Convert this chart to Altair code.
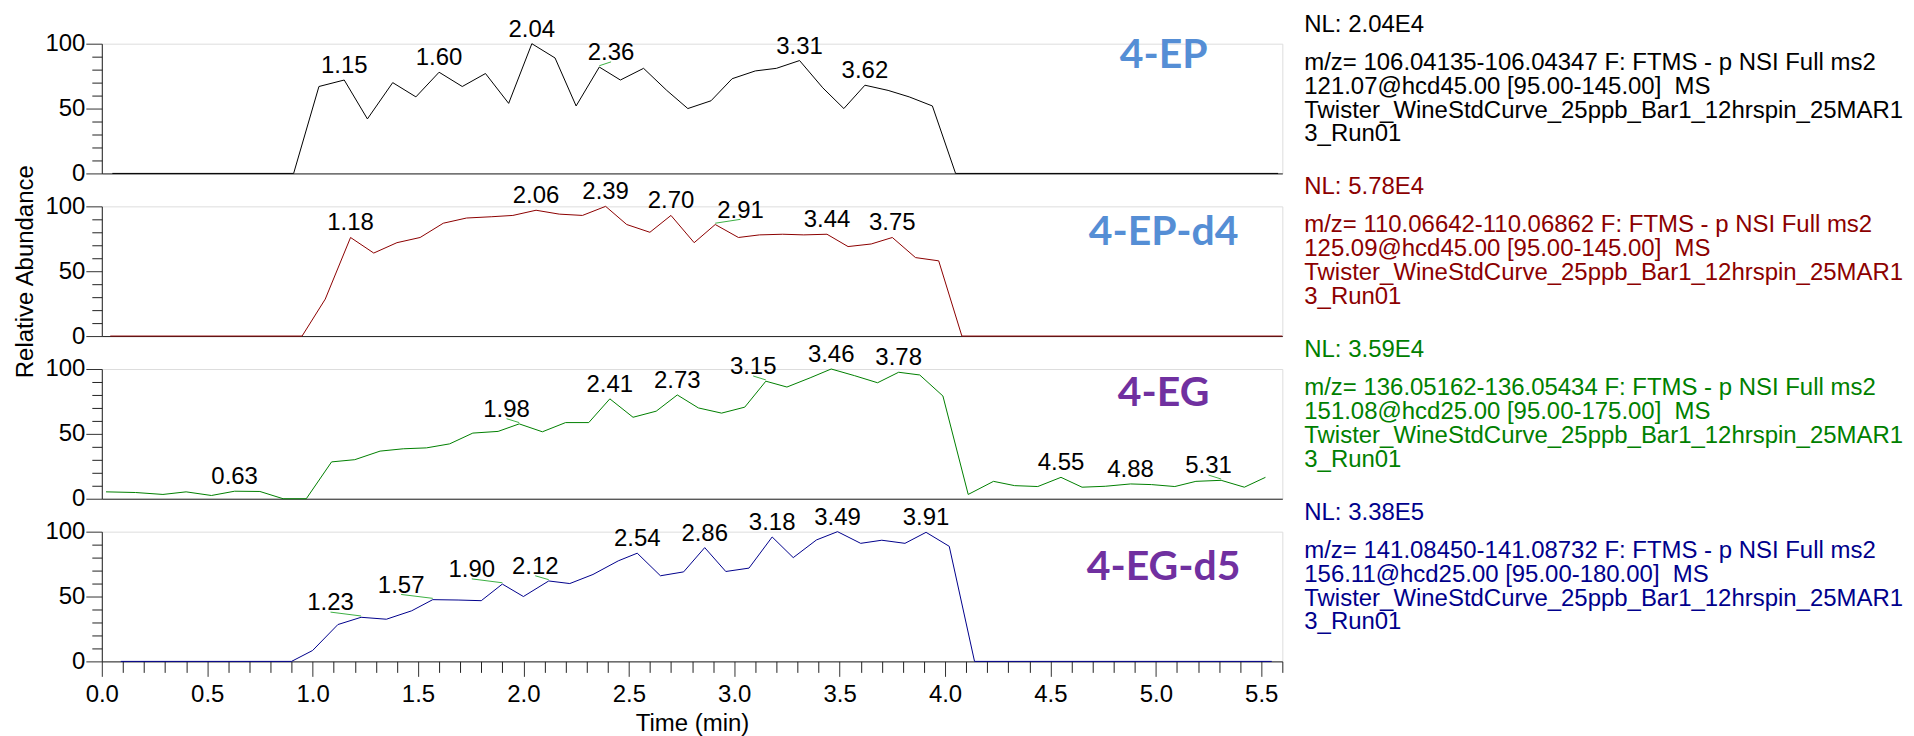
import altair as alt
import pandas as pd

FONT = "Liberation Sans"
W = 1183   # plot width (0 - 5.6 min)
H = 130    # plot height (0 - 100 %)

# ---------------- data ----------------
ep_time = [0.05, 0.91, 1.03, 1.15, 1.26, 1.38, 1.49, 1.60, 1.71, 1.82, 1.93, 2.04, 2.15, 2.25,
           2.36, 2.46, 2.57, 2.68, 2.78, 2.89, 2.99, 3.10, 3.20, 3.31, 3.42, 3.52, 3.62, 3.73,
           3.83, 3.94, 4.05, 5.58]
ep_val = [0, 0, 67, 72, 42, 70, 59, 78, 67, 77, 54, 100, 89, 52,
          82, 72, 81, 64, 50, 56, 73, 79, 81, 87, 66, 50, 68, 64,
          59, 52, 0, 0]
ep_peaks = [1.15, 1.60, 2.04, 2.36, 3.31, 3.62]

epd4_time = [0.04, 0.95, 1.06, 1.18, 1.29, 1.40, 1.51, 1.62, 1.73, 1.85, 1.95, 2.06, 2.17, 2.28,
             2.39, 2.49, 2.60, 2.70, 2.81, 2.91, 3.02, 3.12, 3.23, 3.33, 3.44, 3.54, 3.65, 3.75,
             3.86, 3.97, 4.08, 5.60]
epd4_val = [0, 0, 28.5, 76, 64, 72, 76, 87, 91, 92, 93, 97, 94, 93,
            100, 86, 80, 93, 72, 86, 76, 78, 78.5, 78, 78.5, 69, 71, 76,
            60.5, 58, 0, 0]
epd4_peaks = [1.18, 2.06, 2.39, 2.70, 2.91, 3.44, 3.75]

eg_time = [0.02, 0.16, 0.29, 0.40, 0.52, 0.63, 0.75, 0.86, 0.97, 1.09, 1.20, 1.32, 1.43, 1.54,
           1.65, 1.76, 1.88, 1.98, 2.09, 2.20, 2.31, 2.41, 2.52, 2.63, 2.73, 2.83, 2.94, 3.05,
           3.15, 3.25, 3.36, 3.46, 3.57, 3.68, 3.78, 3.88, 3.99, 4.11, 4.23, 4.33, 4.44, 4.55,
           4.65, 4.76, 4.88, 4.98, 5.09, 5.19, 5.31, 5.42, 5.52]
eg_val = [5.3, 4.8, 3.3, 5.3, 2.5, 5.8, 5.6, 0, 0, 28.4, 30.1, 36.7, 38.5, 39.2,
          42.3, 50.6, 51.9, 57.7, 51.6, 58.7, 58.7, 77, 62.8, 67.5, 80, 70, 66, 70.6,
          90.6, 86.1, 93.2, 100, 94.9, 89.4, 97.5, 95.4, 79.2, 3.3, 13.4, 10.1, 9.4, 16.5,
          8.9, 9.6, 11.4, 10.9, 9.4, 13.4, 14.2, 8.9, 16.5]
eg_peaks = [0.63, 1.98, 2.41, 2.73, 3.15, 3.46, 3.78, 4.55, 4.88, 5.31]

egd5_time = [0.09, 0.90, 1.00, 1.12, 1.23, 1.35, 1.47, 1.57, 1.69, 1.80, 1.90, 2.00, 2.12, 2.22,
             2.33, 2.45, 2.54, 2.65, 2.76, 2.86, 2.96, 3.07, 3.18, 3.28, 3.39, 3.49, 3.60, 3.70,
             3.81, 3.91, 4.02, 4.14, 5.55]
egd5_val = [0, 0, 8.4, 28.4, 34, 32.5, 39, 47.6, 47.3, 46.8, 59.6, 50, 62, 60,
            67, 77.5, 83.4, 66, 69, 87.7, 69.3, 71.9, 95.9, 80, 93.6, 100, 91, 93.4,
            91, 99.5, 88.7, 0, 0]
egd5_peaks = [1.23, 1.57, 1.90, 2.12, 2.54, 2.86, 3.18, 3.49, 3.91]

compounds = ["4-EP", "4-EP-d4", "4-EG", "4-EG-d5"]
nl_lines = ["NL: 2.04E4", "NL: 5.78E4", "NL: 3.59E4", "NL: 3.38E5"]
mz_lines = ["m/z= 106.04135-106.04347 F: FTMS - p NSI Full ms2",
            "m/z= 110.06642-110.06862 F: FTMS - p NSI Full ms2",
            "m/z= 136.05162-136.05434 F: FTMS - p NSI Full ms2",
            "m/z= 141.08450-141.08732 F: FTMS - p NSI Full ms2"]
hcd_lines = ["121.07@hcd45.00 [95.00-145.00] \u00a0MS",
             "125.09@hcd45.00 [95.00-145.00] \u00a0MS",
             "151.08@hcd25.00 [95.00-175.00] \u00a0MS",
             "156.11@hcd25.00 [95.00-180.00] \u00a0MS"]
file_lines = ["Twister_WineStdCurve_25ppb_Bar1_12hrspin_25MAR1", "3_Run01"]

times = [ep_time, epd4_time, eg_time, egd5_time]
vals = [ep_val, epd4_val, eg_val, egd5_val]
peaks = [ep_peaks, epd4_peaks, eg_peaks, egd5_peaks]

x_major = [round(i * 0.5, 1) for i in range(0, 12)]
x_minor = [round(i * 0.1, 1) for i in range(0, 57) if i % 5 != 0]
y_major = [0, 50, 100]
y_minor = [10, 20, 30, 40, 60, 70, 80, 90]

# ---------------- styling ----------------
trace_colors = ["#000000", "#8C0000", "#008000", "#00008C"]
name_colors = ["#558ED5", "#558ED5", "#7030A0", "#7030A0"]
leader_color = "#3CB043"
name_dy = [12, 27, 25, 36]           # vertical placement of compound name (px from plot top)
label_nudge = [                      # horizontal label shift (min) where labels were moved aside
    {2.36: 0.056},
    {2.91: 0.12},
    {1.98: -0.06, 3.15: -0.06, 5.31: -0.06},
    {1.23: -0.145, 1.57: -0.15, 1.90: -0.145, 2.12: -0.064},
]

xscale = alt.Scale(domain=[0, 5.6], nice=False, zero=False)
yscale = alt.Scale(domain=[0, 100], nice=False)

AX = dict(labelFont=FONT, labelFontSize=24, labelColor="black", labelFlush=False,
          tickColor="#333", domainColor="#222", grid=False)


def panel(i):
    bottom = i == 3
    df = pd.DataFrame({"t": times[i], "v": vals[i]})

    if bottom:
        x_main = alt.Axis(values=x_major, format=".1f", tickSize=15, labelPadding=6,
                          orient="bottom",
                          title="Time (min)", titleFont=FONT, titleFontSize=24,
                          titleFontWeight="normal", titleColor="black", titlePadding=5, **AX)
        x_sub = alt.Axis(values=x_minor, tickSize=11, labels=False, domain=False,
                         orient="bottom", title=None, tickColor="#222", grid=False)
    else:
        x_main = alt.Axis(labels=False, ticks=False, title=None, domainColor="#222",
                          grid=False, orient="bottom")
        x_sub = None

    y_main = alt.Axis(values=y_major, tickSize=16, labelPadding=1, orient="left",
                      title="Relative Abundance" if i == 1 else None,
                      titleFont=FONT, titleFontSize=24, titleFontWeight="normal",
                      titleColor="black", titlePadding=7, **AX)
    y_sub = alt.Axis(values=y_minor, tickSize=10, labels=False, domain=False,
                     orient="left", title=None, tickColor="#222", grid=False)

    line = alt.Chart(df).mark_line(color=trace_colors[i], strokeWidth=1).encode(
        x=alt.X("t:Q", scale=xscale, axis=x_main),
        y=alt.Y("v:Q", scale=yscale, axis=y_main),
    )
    minor = alt.Chart(df).mark_point(opacity=0).encode(
        x=alt.X("t:Q", scale=xscale, axis=x_sub),
        y=alt.Y("v:Q", scale=yscale, axis=y_sub),
    )

    # peak labels: value taken from the trace point nearest to the labelled time
    rows, leads = [], []
    for p in peaks[i]:
        k = min(range(len(times[i])), key=lambda j: abs(times[i][j] - p))
        tx = p + label_nudge[i].get(p, 0.0)
        rows.append({"tx": tx, "v": vals[i][k], "label": f"{p:.2f}"})
        if p in label_nudge[i]:
            leads.append({"t": times[i][k], "t2": tx, "y": vals[i][k] + 1, "y2": vals[i][k] + 4})
    labels = alt.Chart(pd.DataFrame(rows)).mark_text(
        font=FONT, fontSize=24, color="black", baseline="alphabetic", align="center", dy=-7
    ).encode(x=alt.X("tx:Q", scale=xscale, axis=None),
             y=alt.Y("v:Q", scale=yscale, axis=None), text="label:N")
    leaders = alt.Chart(pd.DataFrame(leads)).mark_rule(color=leader_color, strokeWidth=1).encode(
        x=alt.X("t:Q", scale=xscale, axis=None), x2="t2:Q",
        y=alt.Y("y:Q", scale=yscale, axis=None), y2="y2:Q")

    nl = alt.Chart(pd.DataFrame({"s": [nl_lines[i]]})).mark_text(
        font=FONT, fontSize=24, color=trace_colors[i], align="left", baseline="alphabetic"
    ).encode(x=alt.value(W + 22), y=alt.value(-12), text="s:N")

    block_text = "\n".join([mz_lines[i], hcd_lines[i]] + file_lines)
    block = alt.Chart(pd.DataFrame({"s": [block_text]})).mark_text(
        font=FONT, fontSize=24, color=trace_colors[i], align="left", baseline="alphabetic",
        lineBreak="\n", lineHeight=24
    ).encode(x=alt.value(W + 22), y=alt.value(26), text="s:N")

    name = alt.Chart(pd.DataFrame({"s": [compounds[i]]})).mark_text(
        font="Lato", fontWeight="bold", fontSize=41, color=name_colors[i],
        align="center", baseline="middle"
    ).encode(x=alt.value(1064), y=alt.value(name_dy[i]), text="s:N")

    return (alt.layer(line, minor, leaders, labels, nl, block, name)
            .resolve_axis(x="independent", y="independent")
            .properties(width=W, height=H))


chart = alt.vconcat(
    *[panel(i) for i in range(4)],
    spacing=33, bounds="flush",
    padding={"left": 5, "top": 3, "right": 2, "bottom": 0},
).configure_view(stroke=None).configure(font=FONT, background="white")

chart.save("out.html", embed_options={"renderer": "svg", "actions": False})
